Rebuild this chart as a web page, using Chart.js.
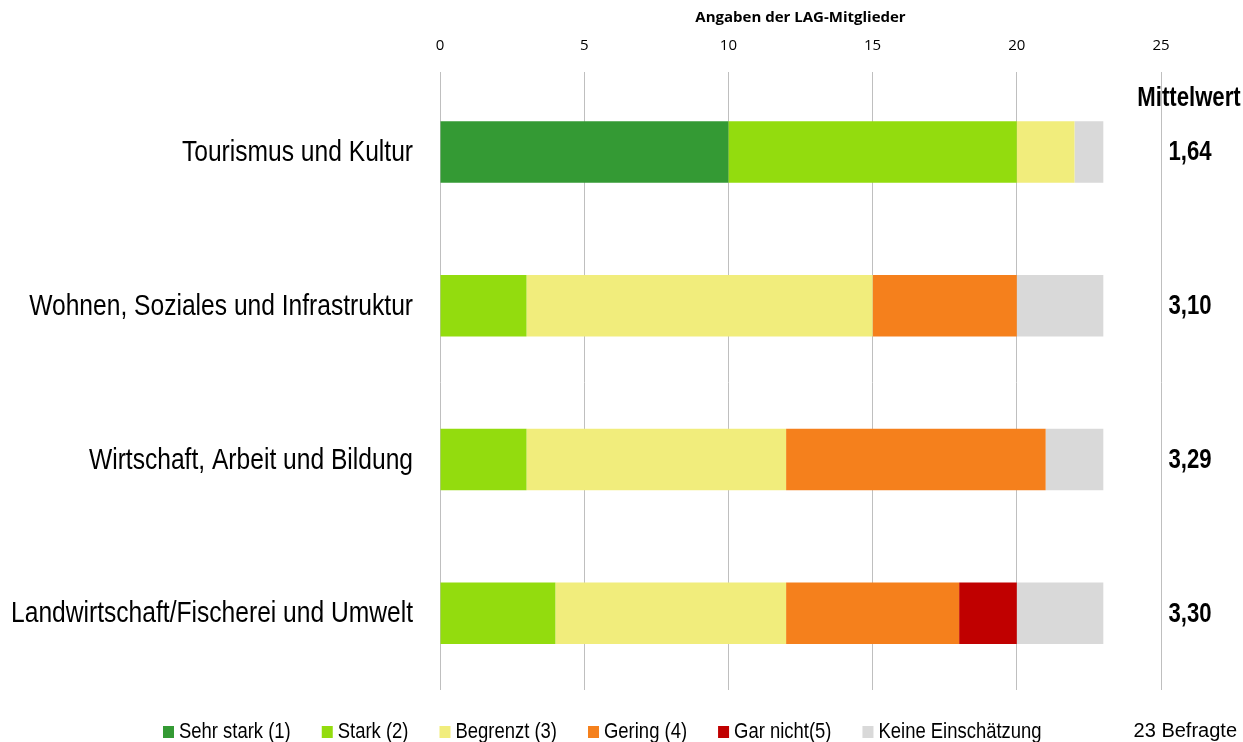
<!DOCTYPE html>
<html>
<head>
<meta charset="utf-8">
<script src="https://cdn.jsdelivr.net/npm/chart.js@4/dist/chart.umd.min.js"></script>
<style>
  html, body { margin: 0; padding: 0; background: #fff; }
  #wrap { width: 1243px; height: 742px; }
</style>
</head>
<body>
<div id="wrap"><canvas id="chart" width="1243" height="742"></canvas></div>
<script>
// Bewertung nach Themenfeldern, 23 Befragte

const categories = [
  'Tourismus und Kultur',
  'Wohnen, Soziales und Infrastruktur',
  'Wirtschaft, Arbeit und Bildung',
  'Landwirtschaft/Fischerei und Umwelt'
];

const sehrStark = [10, 0, 0, 0];
const stark     = [10, 3, 3, 4];
const begrenzt  = [2, 12, 9, 8];
const gering    = [0, 5, 9, 6];
const garNicht  = [0, 0, 0, 2];
const keine     = [1, 3, 2, 3];

const mittelwerte = ['1,64', '3,10', '3,29', '3,30'];
const xTicks = [0, 5, 10, 15, 20, 25];

const SANS = "'Liberation Sans', Arial, sans-serif";
const SQUEEZE = 0.82; // reference uses a narrow face, no narrow font here

function narrowText(ctx, text, x, y, align) {
  ctx.save();
  ctx.translate(x, y);
  ctx.scale(SQUEEZE, 1);
  ctx.textAlign = align;
  ctx.fillText(text, 0, 0);
  ctx.restore();
}

// ─── Extra texts: category labels, Mittelwert column, legend, Befragte ────

const extrasPlugin = {
  id: 'extras',
  afterDraw(chart) {
    const ctx = chart.ctx;
    const y = chart.scales.y;
    ctx.save();
    ctx.fillStyle = '#000';
    ctx.textBaseline = 'middle';

    ctx.font = '30px ' + SANS;
    categories.forEach((c, i) => {
      narrowText(ctx, c, 413, y.getPixelForValue(i) + 1, 'right');
    });

    ctx.font = 'bold 27px ' + SANS;
    narrowText(ctx, 'Mittelwert', 1189, 99, 'center');
    mittelwerte.forEach((m, i) => {
      narrowText(ctx, m, 1190, y.getPixelForValue(i) + 1, 'center');
    });

    // legend row, narrow like the reference
    ctx.font = '22.5px ' + SANS;
    let x = 163;
    const ly = 732;
    chart.data.datasets.forEach(d => {
      ctx.fillStyle = d.backgroundColor;
      ctx.fillRect(x, ly - 6, 11, 12);
      ctx.fillStyle = '#000';
      narrowText(ctx, d.label, x + 16, ly, 'left');
      x += 16 + ctx.measureText(d.label).width * SQUEEZE + 31;
    });

    ctx.font = '20px ' + SANS;
    ctx.textAlign = 'right';
    ctx.fillText('23 Befragte', 1237, 731);
    ctx.restore();
  }
};

function ds(label, data, color) {
  return {
    label,
    data,
    backgroundColor: color,
    borderWidth: 0,
    categoryPercentage: 0.4,
    barPercentage: 1.0
  };
}

window.addEventListener('DOMContentLoaded', () => {
  const ctx = document.getElementById('chart').getContext('2d');
  new Chart(ctx, {
    type: 'bar',
    data: {
      labels: categories,
      datasets: [
        ds('Sehr stark (1)', sehrStark, '#349a34'),
        ds('Stark (2)', stark, '#93dc0e'),
        ds('Begrenzt (3)', begrenzt, '#f1ed7c'),
        ds('Gering (4)', gering, '#f5801c'),
        ds('Gar nicht(5)', garNicht, '#c00000'),
        ds('Keine Einschätzung', keine, '#d9d9d9')
      ]
    },
    options: {
      indexAxis: 'y',
      responsive: false,
      animation: false,
      layout: { padding: { left: 0, right: 82, top: 0, bottom: 52 } },
      plugins: {
        tooltip: { enabled: false },
        legend: { display: false }
      },
      scales: {
        x: {
          position: 'top',
          stacked: true,
          min: 0,
          max: 25,
          afterBuildTicks: s => { s.ticks = xTicks.map(v => ({ value: v })); },
          afterFit: s => { s.height = 75; },
          border: { display: false },
          grid: { color: '#bfbfbf', lineWidth: 1, drawTicks: true, tickLength: 3, tickColor: '#bfbfbf' },
          ticks: { padding: 17, color: '#000', font: { family: "'Open Sans', sans-serif", size: 15 } },
          title: {
            display: true,
            text: 'Angaben der LAG-Mitglieder',
            color: '#000',
            padding: { top: 9, bottom: 0 },
            font: { family: "'Open Sans', sans-serif", size: 15, weight: 'bold' }
          }
        },
        y: {
          stacked: true,
          afterFit: s => { s.width = 440; },
          border: { display: false },
          grid: { display: false, drawTicks: false },
          ticks: { display: false }
        }
      }
    },
    plugins: [extrasPlugin]
  });
});
</script>
</body>
</html>
